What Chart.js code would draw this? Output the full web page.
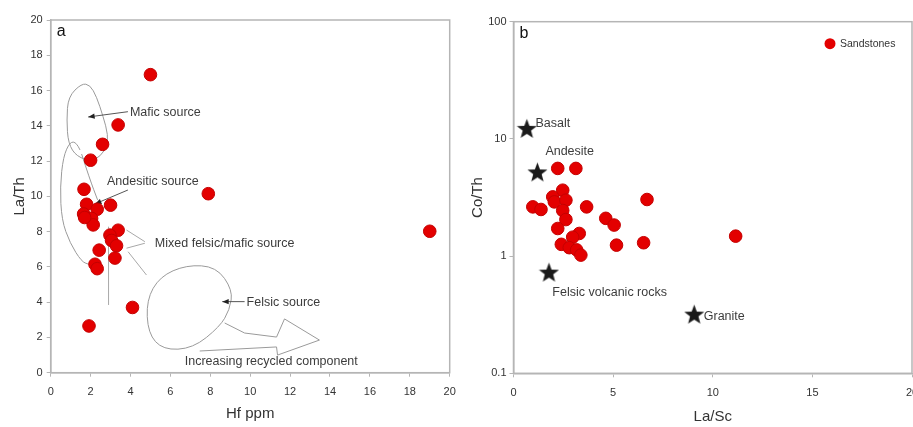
<!DOCTYPE html>
<html>
<head>
<meta charset="utf-8">
<script src="https://cdn.jsdelivr.net/npm/chart.js@4.4.1/dist/chart.umd.min.js"></script>
<style>
  html, body { margin: 0; padding: 0; background: #fff; overflow: hidden; }
  #wrap { position: relative; width: 913px; height: 427px; overflow: hidden; }
  canvas { position: absolute; top: 0; }
</style>
</head>
<body>
<div id="wrap">
  <canvas id="chartA" width="457" height="427" style="left:0"></canvas>
  <canvas id="chartB" width="467" height="427" style="left:457px"></canvas>
</div>
<script>
// panel a: Hf ppm vs La/Th
const hfPpm = [5.0, 3.38, 2.6, 2.0, 1.67, 7.9, 3.0, 1.8, 2.33, 1.65, 2.05, 2.13, 1.7, 19.0, 3.38, 2.97, 3.05, 3.3, 3.22, 2.43, 2.22, 2.33, 4.1, 1.92];
const laTh = [16.9, 14.05, 12.95, 12.05, 10.4, 10.15, 9.5, 9.55, 9.27, 9.0, 8.75, 8.38, 8.8, 8.02, 8.08, 7.8, 7.5, 7.2, 6.5, 6.95, 6.15, 5.9, 3.7, 2.65];
const hfTicks = [0, 2, 4, 6, 8, 10, 12, 14, 16, 18, 20];
const laThTicks = [0, 2, 4, 6, 8, 10, 12, 14, 16, 18, 20];

// panel b: La/Sc vs Co/Th
const laSc = [2.22, 3.13, 2.47, 1.97, 2.05, 2.63, 0.97, 1.38, 2.47, 3.67, 2.63, 4.63, 5.05, 2.22, 3.3, 2.97, 2.4, 2.8, 3.17, 3.38, 5.17, 6.7, 6.53, 11.15];
const coTh = [5.6, 5.6, 3.65, 3.2, 2.9, 3.0, 2.63, 2.5, 2.45, 2.63, 2.05, 2.1, 1.84, 1.72, 1.56, 1.45, 1.26, 1.18, 1.13, 1.02, 1.24, 3.04, 1.3, 1.48];
const rockNames = ['Basalt', 'Andesite', 'Felsic volcanic rocks', 'Granite'];
const rockLaSc = [0.67, 1.2, 1.78, 9.07];
const rockCoTh = [12.3, 5.23, 0.73, 0.32];
const laScTicks = [0, 5, 10, 15, 20];
const coThTicks = [0.1, 1, 10, 100];

// field outlines and labels of panel a, in data units
const maficField = [[1.55,16.4],[1.97,16.32],[2.3,15.65],[2.63,14.52],[2.88,13.48],[2.8,12.63],[2.13,11.97],[1.3,12.25],[0.88,13.0],[0.8,14.33],[0.88,15.65]];
const andesiticLeft = [[1.47,12.63],[1.3,13.05],[0.97,13.1],[0.63,12.25],[0.47,10.55],[0.55,8.66],[0.97,7.34],[1.55,6.3],[1.9,6.15]];
const andesiticRight = [[1.55,12.4],[1.95,11.0],[2.35,9.8]];
const andesiticTail = [[2.9,8.28],[2.9,3.84]];
const felsicField = [[9.12,4.69],[8.3,6.01],[6.8,6.11],[5.47,5.45],[4.8,4.12],[4.88,2.23],[5.63,1.29],[7.13,1.38],[8.47,2.61],[8.97,3.56]];
const recycledArrow = [[8.72,2.82],[9.72,2.25],[11.32,2.02],[11.72,3.05],[13.47,1.85],[11.37,1.0],[11.32,1.46],[7.47,1.23]];
const mixedLines = [[[3.8,8.09],[4.72,7.43]], [[3.8,7.06],[4.72,7.34]], [[3.88,6.86],[4.8,5.54]]];
const pointerArrows = [[[3.87,14.8],[1.88,14.5]], [[3.87,10.36],[2.22,9.57]], [[9.72,4.03],[8.6,4.03]]];
const fieldLabels = ['Mafic source', 'Andesitic source', 'Mixed felsic/mafic source', 'Felsic source', 'Increasing recycled component'];
const fieldLabelPos = [[3.97,14.75], [2.82,10.83], [5.22,7.3], [9.82,3.97], [6.72,0.62]];
const rockLabelPos = [[1.1,13.54], [1.6,7.82], [1.95,0.493], [9.55,0.303]];

const FONT = '"Liberation Sans", Arial, sans-serif';
const RED = '#e30000';
const FRAME = '#b5b5b5';

function toPx(chart, p) {
  return [chart.scales.x.getPixelForValue(p[0]), chart.scales.y.getPixelForValue(p[1])];
}

function smoothPath(ctx, pts, closed) {
  const mid = (a, b) => [(a[0] + b[0]) / 2, (a[1] + b[1]) / 2];
  ctx.beginPath();
  if (closed) {
    const n = pts.length;
    const start = mid(pts[n - 1], pts[0]);
    ctx.moveTo(start[0], start[1]);
    for (let i = 0; i < n; i++) {
      const m = mid(pts[i], pts[(i + 1) % n]);
      ctx.quadraticCurveTo(pts[i][0], pts[i][1], m[0], m[1]);
    }
    ctx.closePath();
  } else {
    ctx.moveTo(pts[0][0], pts[0][1]);
    for (let i = 1; i < pts.length - 1; i++) {
      const m = mid(pts[i], pts[i + 1]);
      ctx.quadraticCurveTo(pts[i][0], pts[i][1], m[0], m[1]);
    }
    const last = pts[pts.length - 1];
    ctx.lineTo(last[0], last[1]);
  }
  ctx.stroke();
}

function makeStar(size) {
  const c = document.createElement('canvas');
  c.width = size; c.height = size;
  const g = c.getContext('2d');
  const r = size / 2, ri = r * 0.42;
  g.fillStyle = '#1a1a1a';
  g.beginPath();
  for (let i = 0; i < 10; i++) {
    const ang = -Math.PI / 2 + i * Math.PI / 5;
    const rr = i % 2 === 0 ? r : ri;
    g.lineTo(r + rr * Math.cos(ang), r + 1 + rr * Math.sin(ang));
  }
  g.closePath();
  g.fill();
  return c;
}

const framePlugin = {
  id: 'frame',
  beforeDatasetsDraw(chart) {
    const {ctx, chartArea: a} = chart;
    ctx.save();
    ctx.strokeStyle = FRAME;
    ctx.lineWidth = 1.5;
    ctx.strokeRect(a.left, a.top, a.right - a.left, a.bottom - a.top);
    ctx.fillStyle = '#111';
    ctx.font = '16px ' + FONT;
    ctx.textBaseline = 'middle';
    ctx.fillText(chart.options.plugins.frame.tag, a.left + 6, a.top + 12);
    ctx.restore();
  }
};

const fieldsPlugin = {
  id: 'fields',
  beforeDatasetsDraw(chart) {
    const ctx = chart.ctx;
    const P = p => toPx(chart, p);
    ctx.save();
    ctx.strokeStyle = '#9a9a9a';
    ctx.lineWidth = 1;
    smoothPath(ctx, maficField.map(P), true);
    smoothPath(ctx, felsicField.map(P), true);
    smoothPath(ctx, andesiticLeft.map(P), false);
    smoothPath(ctx, andesiticRight.map(P), false);
    ctx.strokeStyle = '#a8a8a8';
    [andesiticTail, ...mixedLines].forEach(seg => {
      const a = P(seg[0]), b = P(seg[1]);
      ctx.beginPath(); ctx.moveTo(a[0], a[1]); ctx.lineTo(b[0], b[1]); ctx.stroke();
    });
    ctx.strokeStyle = '#9a9a9a';
    ctx.beginPath();
    recycledArrow.map(P).forEach((p, i) => i ? ctx.lineTo(p[0], p[1]) : ctx.moveTo(p[0], p[1]));
    ctx.stroke();
    // pointer arrows
    ctx.strokeStyle = '#555';
    ctx.fillStyle = '#222';
    pointerArrows.forEach(seg => {
      const a = P(seg[0]), b = P(seg[1]);
      ctx.beginPath(); ctx.moveTo(a[0], a[1]); ctx.lineTo(b[0], b[1]); ctx.stroke();
      const ang = Math.atan2(b[1] - a[1], b[0] - a[0]);
      ctx.beginPath();
      ctx.moveTo(b[0], b[1]);
      ctx.lineTo(b[0] - 7 * Math.cos(ang - 0.4), b[1] - 7 * Math.sin(ang - 0.4));
      ctx.lineTo(b[0] - 7 * Math.cos(ang + 0.4), b[1] - 7 * Math.sin(ang + 0.4));
      ctx.closePath(); ctx.fill();
    });
    ctx.fillStyle = '#3c3c3c';
    ctx.font = '12.5px ' + FONT;
    ctx.textBaseline = 'middle';
    fieldLabels.forEach((t, i) => {
      const p = P(fieldLabelPos[i]);
      ctx.fillText(t, p[0], p[1]);
    });
    ctx.restore();
  }
};

const rocksPlugin = {
  id: 'rocks',
  afterDatasetsDraw(chart) {
    const ctx = chart.ctx;
    ctx.save();
    ctx.fillStyle = '#3c3c3c';
    ctx.font = '12.5px ' + FONT;
    ctx.textBaseline = 'middle';
    rockNames.forEach((t, i) => {
      const p = toPx(chart, rockLabelPos[i]);
      ctx.fillText(t, p[0], p[1]);
    });
    // legend
    const a = chart.chartArea;
    const lx = a.right - 82, ly = a.top + 22;
    ctx.fillStyle = RED;
    ctx.beginPath(); ctx.arc(lx, ly, 5.5, 0, Math.PI * 2); ctx.fill();
    ctx.fillStyle = '#333';
    ctx.font = '10.5px ' + FONT;
    ctx.fillText('Sandstones', lx + 10, ly + 0.5);
    ctx.restore();
  }
};

function axisFit(size) {
  return scale => {
    if (scale.isHorizontal()) { scale.height = size; scale.paddingLeft = 0; scale.paddingRight = 0; }
    else { scale.width = size; scale.paddingTop = 0; scale.paddingBottom = 0; }
  };
}

const tickFont = {family: FONT, size: 11};
const titleFont = {family: FONT, size: 15};

new Chart(document.getElementById('chartA'), {
  type: 'scatter',
  data: {
    datasets: [{
      label: 'Sandstones',
      data: hfPpm.map((x, i) => ({x: x, y: laTh[i]})),
      backgroundColor: RED,
      borderColor: '#c40000',
      borderWidth: 1,
      pointRadius: 6.3
    }]
  },
  options: {
    responsive: false,
    animation: false,
    devicePixelRatio: 1,
    layout: {padding: {top: 20, right: 7, left: 0, bottom: 0}},
    plugins: {legend: {display: false}, tooltip: {enabled: false}, frame: {tag: 'a'}},
    scales: {
      x: {
        type: 'linear', min: 0, max: 20,
        afterBuildTicks: s => { s.ticks = hfTicks.map(v => ({value: v})); },
        afterFit: axisFit(54.3),
        ticks: {font: tickFont, color: '#333', padding: 9, maxRotation: 0},
        grid: {drawOnChartArea: false, tickLength: 4, color: FRAME},
        border: {color: FRAME, width: 1.5},
        title: {display: true, text: 'Hf ppm', font: titleFont, color: '#333', padding: {top: 0, bottom: 4}}
      },
      y: {
        type: 'linear', min: 0, max: 20,
        afterBuildTicks: s => { s.ticks = laThTicks.map(v => ({value: v})); },
        afterFit: axisFit(50.7),
        ticks: {font: tickFont, color: '#333', padding: 4},
        grid: {drawOnChartArea: false, tickLength: 4, color: FRAME},
        border: {color: FRAME, width: 1.5},
        title: {display: true, text: 'La/Th', font: titleFont, color: '#333', padding: {top: 11, bottom: 0}}
      }
    }
  },
  plugins: [framePlugin, fieldsPlugin]
});

new Chart(document.getElementById('chartB'), {
  type: 'scatter',
  data: {
    datasets: [{
      label: 'Sandstones',
      data: laSc.map((x, i) => ({x: x, y: coTh[i]})),
      backgroundColor: RED,
      borderColor: '#c40000',
      borderWidth: 1,
      pointRadius: 6.3
    }, {
      label: 'Reference rocks',
      data: rockLaSc.map((x, i) => ({x: x, y: rockCoTh[i]})),
      pointStyle: makeStar(21),
      pointRadius: 10
    }]
  },
  options: {
    responsive: false,
    animation: false,
    devicePixelRatio: 1,
    layout: {padding: {top: 21.7, right: 12, left: 0, bottom: 0}},
    plugins: {legend: {display: false}, tooltip: {enabled: false}, frame: {tag: 'b'}},
    scales: {
      x: {
        type: 'linear', min: 0, max: 20,
        afterBuildTicks: s => { s.ticks = laScTicks.map(v => ({value: v})); },
        afterFit: axisFit(53.7),
        ticks: {font: tickFont, color: '#333', padding: 9, maxRotation: 0},
        grid: {drawOnChartArea: false, tickLength: 4, color: FRAME},
        border: {color: FRAME, width: 1.5},
        title: {display: true, text: 'La/Sc', font: titleFont, color: '#333', padding: {top: 0, bottom: 1.5}}
      },
      y: {
        type: 'logarithmic', min: 0.1, max: 100,
        afterBuildTicks: s => { s.ticks = coThTicks.map(v => ({value: v})); },
        afterFit: axisFit(56.5),
        ticks: {font: tickFont, color: '#333', padding: 3, callback: v => String(v)},
        grid: {drawOnChartArea: false, tickLength: 4, color: FRAME},
        border: {color: FRAME, width: 1.5},
        title: {display: true, text: 'Co/Th', font: titleFont, color: '#333', padding: {top: 12, bottom: 0}}
      }
    }
  },
  plugins: [framePlugin, rocksPlugin]
});
</script>
</body>
</html>
